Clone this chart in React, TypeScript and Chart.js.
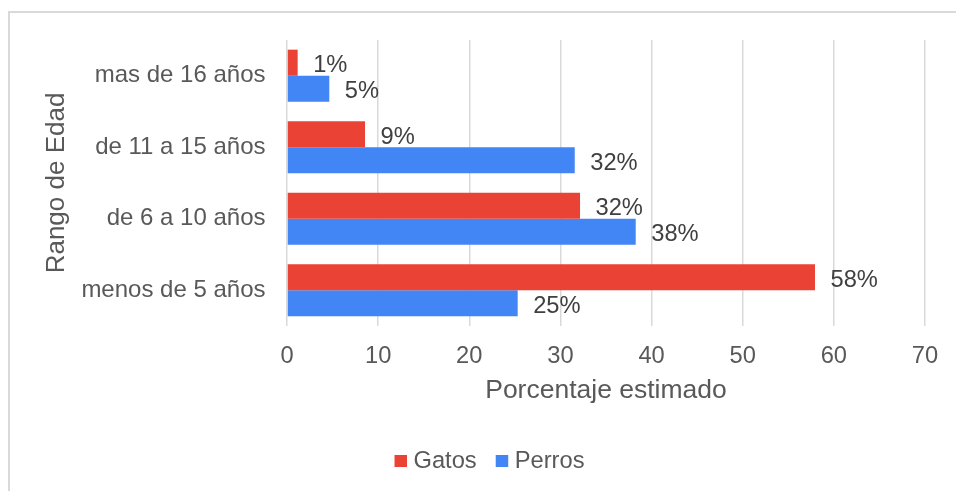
import React, { useEffect, useRef } from 'react';
import { Chart, registerables } from 'chart.js';

Chart.register(...registerables);

const categories = ['mas de 16 años', 'de 11 a 15 años', 'de 6 a 10 años', 'menos de 5 años'];
const gatos = [1.17, 8.56, 32.15, 57.93];
const perros = [4.64, 31.57, 38.26, 25.31];
const seriesNames = ['Gatos', 'Perros'];
const seriesColors = ['#EA4335', '#4285F4'];
const xMin = 0;
const xMax = 70;
const xStep = 10;
const xTitle = 'Porcentaje estimado';
const yTitle = 'Rango de Edad';

const FONT = '"Liberation Sans", Arial, Helvetica, sans-serif';
const TICK_SIZE = 24;
const LABEL_SIZE = 23.7;
const TITLE_SIZE = 26.5;
const TEXT_GRAY = '#595959';
const LABEL_GRAY = '#404040';

const valueLabels = {
  id: 'valueLabels',
  afterDatasetsDraw(chart: any) {
    const ctx = chart.ctx;
    ctx.save();
    ctx.font = `${LABEL_SIZE}px ${FONT}`;
    ctx.fillStyle = LABEL_GRAY;
    ctx.textAlign = 'left';
    ctx.textBaseline = 'alphabetic';
    chart.data.datasets.forEach((ds: any, di: number) => {
      const meta = chart.getDatasetMeta(di);
      meta.data.forEach((bar: any, i: number) => {
        const v = ds.data[i];
        ctx.fillText(Math.round(v) + '%', bar.x + 15.5, bar.y + 9.5);
      });
    });
    ctx.restore();
  },
};

const customLegend = {
  id: 'customLegend',
  afterDraw(chart: any) {
    const ctx = chart.ctx;
    ctx.save();
    ctx.font = `${LABEL_SIZE}px ${FONT}`;
    const box = 12.5;
    const gapText = 6.5;
    const gapItem = 19;
    const items = chart.data.datasets.map((ds: any) => ({
      text: ds.label,
      color: ds.backgroundColor,
      w: ctx.measureText(ds.label).width,
    }));
    let total = 0;
    items.forEach((it: any, i: number) => {
      total += box + gapText + it.w + (i < items.length - 1 ? gapItem : 0);
    });
    const centerX = 489.5;
    const boxTop = 455;
    let x = centerX - total / 2;
    items.forEach((it: any) => {
      ctx.fillStyle = it.color;
      ctx.fillRect(x, boxTop, box, 12);
      x += box + gapText;
      ctx.fillStyle = TEXT_GRAY;
      ctx.textAlign = 'left';
      ctx.textBaseline = 'alphabetic';
      ctx.fillText(it.text, x, 468);
      x += it.w + gapItem;
    });
    ctx.restore();
  },
};

function BarChart() {
  const ref = useRef<HTMLCanvasElement | null>(null);
  useEffect(() => {
    if (!ref.current) return;
    const chart = new Chart(ref.current, {
      type: 'bar',
      data: {
        labels: categories,
        datasets: [
          { label: seriesNames[0], data: gatos, backgroundColor: seriesColors[0], borderWidth: 0 },
          { label: seriesNames[1], data: perros, backgroundColor: seriesColors[1], borderWidth: 0 },
        ],
      },
      options: {
        indexAxis: 'y',
        responsive: false,
        animation: false,
        devicePixelRatio: 1,
        datasets: { bar: { categoryPercentage: 0.73, barPercentage: 1 } },
        layout: { padding: { top: 40, right: 31, left: 0, bottom: 0 } },
        plugins: { legend: { display: false }, tooltip: { enabled: false } },
        scales: {
          x: {
            min: xMin,
            max: xMax,
            ticks: {
              stepSize: xStep,
              padding: 16,
              color: TEXT_GRAY,
              font: { family: FONT, size: LABEL_SIZE },
            },
            grid: { color: '#d9d9d9', lineWidth: 1.5, drawTicks: false },
            border: { display: false },
            title: {
              display: true,
              text: xTitle,
              color: TEXT_GRAY,
              font: { family: FONT, size: TITLE_SIZE },
              padding: { top: 0, bottom: 84 },
            },
            afterFit(scale: any) {
              scale.height = 165;
            },
          },
          y: {
            ticks: {
              padding: 21.5,
              color: TEXT_GRAY,
              font: { family: FONT, size: TICK_SIZE },
            },
            grid: { display: false, drawTicks: false },
            border: { display: false },
            title: {
              display: true,
              text: yTitle,
              color: TEXT_GRAY,
              font: { family: FONT, size: 26 },
              padding: { top: 41.5, bottom: 0 },
            },
            afterFit(scale: any) {
              scale.width = 287;
            },
          },
        },
      },
      plugins: [valueLabels, customLegend],
    } as any);
    return () => chart.destroy();
  }, []);
  return <canvas ref={ref} width={956} height={491} style={{ display: 'block', width: 956, height: 491 }} />;
}

export default function App() {
  return (
    <div style={{ position: 'absolute', left: 0, top: 0, width: 956, height: 491, overflow: 'hidden', background: '#fff' }}>
      <div
        style={{
          position: 'absolute',
          left: 8,
          top: 11,
          width: 1000,
          height: 600,
          borderTop: '2px solid #d9d9d9',
          borderLeft: '2px solid #d9d9d9',
          boxSizing: 'border-box',
        }}
      />
      <div style={{ position: 'absolute', left: 0, top: 0 }}>
        <BarChart />
      </div>
    </div>
  );
}
